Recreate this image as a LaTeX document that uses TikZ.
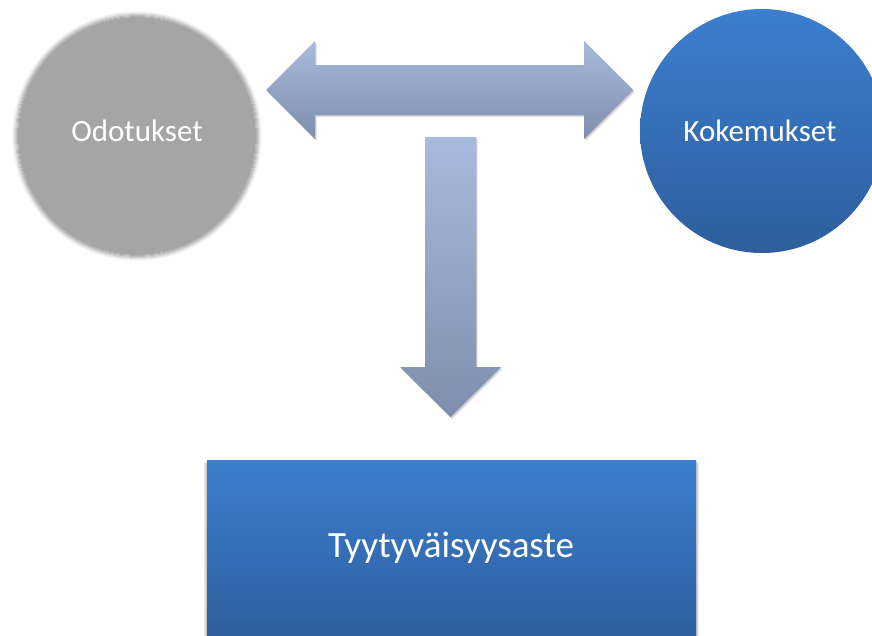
\documentclass[tikz,border=0pt]{standalone}
\usepackage{fontspec}
\setmainfont{Carlito}
\definecolor{arrtop}{RGB}{168,186,221}
\definecolor{arrbot}{RGB}{126,142,172}
\definecolor{bluetop}{RGB}{59,127,207}
\definecolor{bluebot}{RGB}{46,94,157}
\definecolor{grayfill}{RGB}{165,165,165}
\tikzset{
  blockarrow/.style={top color=arrtop, bottom color=arrbot, draw=none},
  softshadow/.style={fill=black, opacity=0.08, draw=none},
  graycirc/.style={circle, fill=grayfill, minimum size=238pt, inner sep=0pt, draw=none},
  bluecirc/.style={circle, top color=bluetop, bottom color=bluebot, minimum size=244pt, inner sep=0pt, draw=none},
  bluerect/.style={rectangle, top color=bluetop, bottom color=bluebot, minimum width=489pt, minimum height=180pt, inner sep=0pt, draw=none},
  lbl/.style={text=white, font=\fontsize{31}{36}\selectfont, inner sep=0pt},
}
\begin{document}
\begin{tikzpicture}[x=1pt,y=-1pt]
\useasboundingbox (0,0) rectangle (872,635);
\clip (0,0) rectangle (872,635);
\fill[white] (0,0) rectangle (872,635);

% circles and box
\node[graycirc] (odo) at (137,136) {};
\foreach \ra/\rb/\o in {119/120/0.85, 120/121/0.68, 121/122/0.5, 122/123/0.32, 123/124/0.16, 124/125/0.06}
  \fill[grayfill, opacity=\o, even odd rule] (odo.center) circle (\rb) circle (\ra);
\node[bluecirc] (koke) at (762,131) {};
\foreach \s in {1,2,3}
  \fill[softshadow] ([xshift=-\s pt, yshift=-\s pt]451.5-244.5,460) rectangle ([xshift=\s pt]451.5+244.5,640);
\node[bluerect] (tyyt) at (451.5,550) {};

% arrow shadows
\foreach \s in {1,2,3} {
  \begin{scope}[shift={(\s*0.6,\s*0.8)}]
  \fill[softshadow] (266,90) -- (315,41) -- (315,65) -- (584,65) -- (584,41) -- (633,90)
    -- (584,139) -- (584,115) -- (315,115) -- (315,139) -- cycle;
  \fill[softshadow] (425,137) -- (476,137) -- (476,367) -- (501,367) -- (450.5,417)
    -- (400,367) -- (425,367) -- cycle;
  \end{scope}
}
% double arrow
\path[blockarrow] (266,90) -- (315,41) -- (315,65) -- (584,65) -- (584,41) -- (633,90)
  -- (584,139) -- (584,115) -- (315,115) -- (315,139) -- cycle;
% down arrow
\path[blockarrow] (425,137) -- (476,137) -- (476,367) -- (501,367) -- (450.5,417)
  -- (400,367) -- (425,367) -- cycle;

% labels
\node[lbl] (odot) at (137,131) {Odotukset};
\node[lbl] (kokt) at (760,131) {Kokemukset};
\node[lbl, font=\fontsize{37}{42}\selectfont] (tyytt) at (451,548) {Tyytyväisyysaste};
\end{tikzpicture}
\end{document}
